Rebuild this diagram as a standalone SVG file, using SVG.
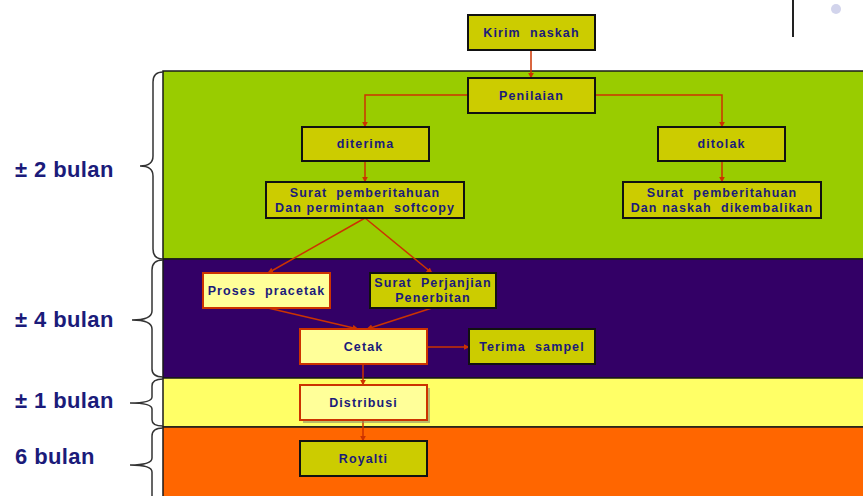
<svg xmlns="http://www.w3.org/2000/svg" width="863" height="496" viewBox="0 0 863 496">
<defs>
<marker id="ah" viewBox="0 0 10 10" refX="9" refY="5" markerWidth="6" markerHeight="6" orient="auto" markerUnits="userSpaceOnUse">
<path d="M0,0 L10,5 L0,10 z" fill="#cc3300"/>
</marker>
<style>
.band{stroke:#1a1a1a;stroke-width:1.5}
.ol{fill:#cccc00;stroke:#111;stroke-width:2}
.ly{fill:#ffff99;stroke:#cc3300;stroke-width:2}
.t{font-family:"Liberation Sans",Arial,sans-serif;font-weight:bold;font-size:12.5px;fill:#1b1b7a;text-anchor:middle;white-space:pre;letter-spacing:1.1px}
.lab{font-family:"Liberation Sans",Arial,sans-serif;font-weight:bold;font-size:22px;fill:#1b1b7a;letter-spacing:0.4px}
.br{fill:none;stroke:#333;stroke-width:1.5}
.c{fill:none;stroke:#cc3300;stroke-width:1.5;marker-end:url(#ah)}
</style>
</defs>
<rect width="863" height="496" fill="#ffffff"/>
<g id="bands">
<rect class="band" x="163" y="71" width="702" height="188" fill="#99cc00"/>
<rect class="band" x="163" y="259" width="702" height="119" fill="#330066"/>
<rect class="band" x="163" y="378" width="702" height="49" fill="#ffff66"/>
<rect class="band" x="163" y="427" width="702" height="72" fill="#ff6600"/>
</g>
<line x1="793" y1="0" x2="793" y2="37" stroke="#222" stroke-width="2"/>
<circle cx="836" cy="9" r="5" fill="#d2d4ec"/>
<g id="braces">
<path class="br" d="M163,72 Q153,72 153,82 L153,156 Q153,166 140,166 Q153,166 153,176 L153,249 Q153,259 163,259"/>
<path class="br" d="M163,260 Q152,260 152,270 L152,311 Q152,320 132,320 Q152,320 152,329 L152,369 Q152,377 163,377"/>
<path class="br" d="M163,379 Q152,379 152,386 L152,397 Q152,403 130,403 Q152,403 152,409 L152,420 Q152,426 163,426"/>
<path class="br" d="M163,428 Q152,428 152,436 L152,458 Q152,465 130,465 Q152,465 152,472 L152,500"/>
</g>
<text class="lab" x="15" y="177">± 2 bulan</text>
<text class="lab" x="15" y="327">± 4 bulan</text>
<text class="lab" x="15" y="408">± 1 bulan</text>
<text class="lab" x="15" y="464">6 bulan</text>
<g id="connectors">
<path class="c" d="M531,50 L531,78"/>
<path class="c" d="M468,95 L365,95 L365,127"/>
<path class="c" d="M595,95 L722,95 L722,127"/>
<path class="c" d="M365,161 L365,182"/>
<path class="c" d="M722,161 L722,182"/>
<path class="c" d="M365,218 L268,273"/>
<path class="c" d="M365,218 L432,273"/>
<path class="c" d="M268,308 L358,329"/>
<path class="c" d="M432,308 L367,329"/>
<path class="c" d="M427,347 L469,347"/>
<path class="c" d="M363,364 L363,385"/>
<path class="c" d="M363,420 L363,441"/>
</g>
<g id="kirim"><rect class="ol" x="468" y="15" width="127" height="35"/><text class="t" x="531.5" y="37">Kirim  naskah</text></g>
<g id="penilaian"><rect class="ol" x="468" y="78" width="127" height="35"/><text class="t" x="531.5" y="100">Penilaian</text></g>
<g id="diterima"><rect class="ol" x="302" y="127" width="127" height="34"/><text class="t" x="365.5" y="148">diterima</text></g>
<g id="ditolak"><rect class="ol" x="658" y="127" width="127" height="34"/><text class="t" x="721.5" y="148">ditolak</text></g>
<g id="surat1"><rect class="ol" x="266" y="182" width="198" height="36"/><text class="t" x="365" y="197">Surat  pemberitahuan</text><text class="t" x="365" y="212">Dan permintaan  softcopy</text></g>
<g id="surat2"><rect class="ol" x="623" y="182" width="198" height="36"/><text class="t" x="722" y="197">Surat  pemberitahuan</text><text class="t" x="722" y="212">Dan naskah  dikembalikan</text></g>
<g id="pracetak"><rect class="ly" x="203" y="273" width="127" height="35"/><text class="t" x="266.5" y="295">Proses  pracetak</text></g>
<g id="perjanjian"><rect class="ol" x="370" y="273" width="126" height="35"/><text class="t" x="433" y="287">Surat  Perjanjian</text><text class="t" x="433" y="302">Penerbitan</text></g>
<g id="cetak"><rect class="ly" x="300" y="329" width="127" height="35"/><text class="t" x="363.5" y="351">Cetak</text></g>
<g id="sampel"><rect class="ol" x="469" y="329" width="126" height="35"/><text class="t" x="532" y="351">Terima  sampel</text></g>
<g id="distribusi"><rect x="303" y="388" width="127" height="35" fill="#8c8c6a" opacity="0.6"/><rect class="ly" x="300" y="385" width="127" height="35"/><text class="t" x="363.5" y="407">Distribusi</text></g>
<g id="royalti"><rect class="ol" x="300" y="441" width="127" height="35"/><text class="t" x="363.5" y="463">Royalti</text></g>
</svg>
